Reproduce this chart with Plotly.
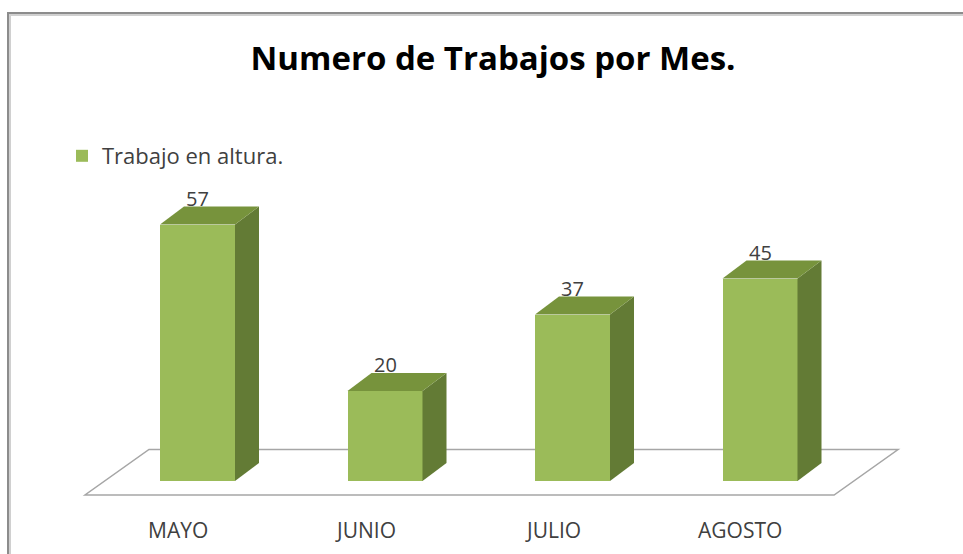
import plotly.graph_objects as go

# Monthly job counts
meses = ["MAYO", "JUNIO", "JULIO", "AGOSTO"]
trabajos = [57, 20, 37, 45]
serie = "Trabajo en altura."
titulo = "Numero de Trabajos por Mes."

W, H = 963, 554
# axis scales: category spacing and value scale in pixels
PX_X = 187.5          # px per category step
PX_Y = 4.5            # px per unit
X0_PX = 197.5         # pixel x of first category
Y0_PX = 481           # pixel y of zero line

x_range = [-X0_PX / PX_X, (W - X0_PX) / PX_X]
y_range = [-(H - Y0_PX) / PX_Y, Y0_PX / PX_Y]

BAR_W = 75 / PX_X
DX = 24 / PX_X        # depth offset (x)
DY = 18 / PX_Y        # depth offset (y)

FRONT = "#9BBB59"
SIDE = "#637B35"
TOP = "#77933C"
FONT = "Open Sans"
TXT = "#404040"

xs = list(range(len(meses)))

fig = go.Figure()

# front faces
fig.add_trace(go.Bar(
    x=xs, y=trabajos, width=BAR_W, name=serie,
    marker=dict(color=FRONT, line=dict(width=0)),
    showlegend=True, hoverinfo="skip",
))

# side and top faces, derived from the values
for i, v in zip(xs, trabajos):
    r = i + BAR_W / 2
    l = i - BAR_W / 2
    fig.add_trace(go.Scatter(
        x=[r, r + DX, r + DX, r, r], y=[0, DY, v + DY, v, 0],
        fill="toself", fillcolor=SIDE, mode="lines",
        line=dict(width=0, color=SIDE), showlegend=False, hoverinfo="skip",
    ))
    fig.add_trace(go.Scatter(
        x=[l, l + DX, r + DX, r, l], y=[v, v + DY, v + DY, v, v],
        fill="toself", fillcolor=TOP, mode="lines",
        line=dict(width=0, color=TOP), showlegend=False, hoverinfo="skip",
    ))

# floor parallelogram
fx_l, fx_r = -0.6, 3.395
fy_f, fy_b = -14 / PX_Y, 31.5 / PX_Y
fdx = 64 / PX_X
floor_path = (f"M {fx_l},{fy_f} L {fx_r},{fy_f} L {fx_r + fdx},{fy_b} "
              f"L {fx_l + fdx},{fy_b} Z")

shapes = [
    dict(type="path", path=floor_path, xref="x", yref="y", layer="below",
         line=dict(color="#A6A6A6", width=1.5)),
    # chart frame (top and left edges) with a soft shadow
    dict(type="path", xref="paper", yref="paper",
         path=f"M {10 / W},0 L {10 / W},{1 - 15 / H} L 1.01,{1 - 15 / H}",
         line=dict(color="#D0D0D0", width=2)),
    dict(type="path", xref="paper", yref="paper",
         path=f"M {8 / W},0 L {8 / W},{1 - 13 / H} L 1.01,{1 - 13 / H}",
         line=dict(color="#8C8C8C", width=2)),
]

annotations = []
for i, (m, v) in enumerate(zip(meses, trabajos)):
    annotations.append(dict(
        x=i - 20 / PX_X, y=-48.5 / PX_Y, xref="x", yref="y", text=m,
        showarrow=False, font=dict(family=FONT, size=21, color=TXT),
    ))
    annotations.append(dict(
        x=i, y=v + 5.8, xref="x", yref="y", text=str(v),
        showarrow=False, font=dict(family=FONT, size=20, color=TXT),
    ))

fig.update_layout(
    width=W, height=H,
    margin=dict(l=0, r=0, t=0, b=0),
    paper_bgcolor="white", plot_bgcolor="white",
    title=dict(text=titulo, x=493 / W, xanchor="center",
               y=1 - 58 / H, yanchor="middle",
               font=dict(family=FONT, size=33, color="black", weight="bold")),
    xaxis=dict(range=x_range, visible=False, fixedrange=True),
    yaxis=dict(range=y_range, visible=False, fixedrange=True),
    legend=dict(x=62 / W, xanchor="left", y=1 - 156 / H, yanchor="middle",
                font=dict(family=FONT, size=22, color=TXT),
                bgcolor="rgba(0,0,0,0)"),
    shapes=shapes,
    annotations=annotations,
    bargap=0,
)

fig.write_html("out.html")
